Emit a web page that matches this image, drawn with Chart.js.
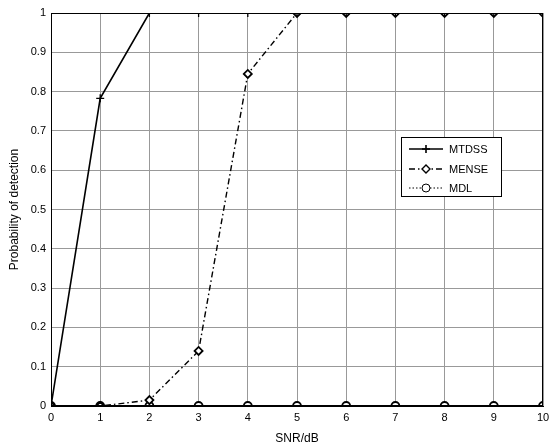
<!DOCTYPE html>
<html lang="en">
  <head>
    <meta charset="UTF-8" />
    <title>Probability of detection</title>
    <script src="https://cdn.jsdelivr.net/npm/chart.js@4.4.1/dist/chart.umd.min.js"></script>
    <style>
      html, body { margin: 0; padding: 0; background: #fff; }
      #wrap { width: 549px; height: 446px; }
    </style>
  </head>
  <body>
    <div id="wrap"><canvas id="myChart"></canvas></div>

    <script>
    // SNR/dB
    const snr = [0, 1, 2, 3, 4, 5, 6, 7, 8, 9, 10];
    // 各算法检测概率
    const mtdss = [0, 0.783, 1, 1, 1, 1, 1, 1, 1, 1, 1];
    const mense = [0, 0, 0.015, 0.14, 0.845, 1, 1, 1, 1, 1, 1];
    const mdl   = [0, 0, 0, 0, 0, 0, 0, 0, 0, 0, 0];
    // 纵轴刻度标签
    const yTickLabels = ['0', '0.1', '0.2', '0.3', '0.4', '0.5', '0.6', '0.7', '0.8', '0.9', '1'];

    const toPts = (arr) => snr.map((x, i) => ({ x: x, y: arr[i] }));

    const FONT = 'Liberation Sans, Arial, sans-serif';

    // 坐标框 (四边) + 图例
    const boxLegend = {
      id: 'boxLegend',
      afterDatasetsDraw(chart) {
        const ctx = chart.ctx;
        const a = chart.chartArea;
        ctx.save();
        ctx.strokeStyle = '#000';
        ctx.lineWidth = 1;
        ctx.strokeRect(a.left + 0.5, a.top + 0.5, a.right - a.left - 1, a.bottom - a.top - 1);

        // 图例
        const lx = 401, ly = 137, lw = 100, lh = 59;
        ctx.fillStyle = '#fff';
        ctx.fillRect(lx, ly, lw, lh);
        ctx.strokeRect(lx + 0.5, ly + 0.5, lw, lh);
        const rows = [149, 169, 188];
        chart.data.datasets.forEach((ds, i) => {
          const y = rows[i];
          ctx.strokeStyle = '#000';
          ctx.lineWidth = ds.borderWidth;
          ctx.setLineDash(ds.borderDash || []);
          ctx.beginPath();
          ctx.moveTo(409, y);
          ctx.lineTo(443, y);
          ctx.stroke();
          ctx.setLineDash([]);
          ctx.fillStyle = '#fff';
          ctx.strokeStyle = '#000';
          Chart.helpers.drawPoint(ctx, {
            pointStyle: ds.pointStyle,
            radius: ds.pointRadius,
            borderWidth: ds.pointBorderWidth
          }, 426, y);
          ctx.fillStyle = '#000';
          ctx.font = '11px ' + FONT;
          ctx.textBaseline = 'middle';
          ctx.textAlign = 'left';
          ctx.fillText(ds.label, 449, y + 1);
        });
        ctx.restore();
      }
    };

    const config = {
      type: 'line',
      data: {
        datasets: [
          {
            label: 'MTDSS',
            data: toPts(mtdss),
            borderColor: '#000',
            backgroundColor: '#fff',
            borderWidth: 1.6,
            pointStyle: 'cross',
            pointRadius: 4,
            pointBorderWidth: 1.3,
            pointBorderColor: '#000',
            fill: false,
            tension: 0
          },
          {
            label: 'MENSE',
            data: toPts(mense),
            borderColor: '#000',
            backgroundColor: '#fff',
            borderWidth: 1.4,
            borderDash: [6, 3, 1.5, 3],
            pointStyle: 'rectRot',
            pointRadius: 4,
            pointBorderWidth: 1.8,
            pointBorderColor: '#000',
            fill: false,
            tension: 0
          },
          {
            label: 'MDL',
            data: toPts(mdl),
            borderColor: '#000',
            backgroundColor: '#fff',
            borderWidth: 1,
            borderDash: [1.5, 2],
            pointStyle: 'circle',
            pointRadius: 4,
            pointBorderWidth: 1.8,
            pointBorderColor: '#000',
            fill: false,
            tension: 0
          }
        ]
      },
      options: {
        responsive: false,
        animation: false,
        layout: { padding: { left: 0, top: 13, right: 6, bottom: 0 } },
        scales: {
          x: {
            type: 'linear',
            min: 0,
            max: 10,
            afterFit(scale) { scale.height = 40; scale.paddingRight = 0; scale.paddingLeft = 0; },
            grid: { color: '#999', lineWidth: 1, drawTicks: false },
            border: { color: '#000' },
            ticks: {
              stepSize: 1,
              padding: 5,
              color: '#000',
              font: { family: FONT, size: 11 }
            },
            title: {
              display: true,
              text: 'SNR/dB',
              color: '#000',
              padding: { top: 2, bottom: 0 },
              font: { family: FONT, size: 12 }
            }
          },
          y: {
            min: 0,
            max: 1,
            afterFit(scale) { scale.width = 51; },
            grid: { color: '#999', lineWidth: 1, drawTicks: false },
            border: { color: '#000' },
            ticks: {
              stepSize: 0.1,
              padding: 5,
              color: '#000',
              font: { family: FONT, size: 11 },
              callback: (v) => yTickLabels[Math.round(v * 10)]
            },
            title: {
              display: true,
              text: 'Probability of detection',
              color: '#000',
              padding: { top: 7, bottom: 2 },
              font: { family: FONT, size: 12 }
            }
          }
        },
        plugins: {
          legend: { display: false },
          tooltip: { enabled: false }
        }
      },
      plugins: [boxLegend]
    };

    const canvas = document.getElementById('myChart');
    canvas.width = 549;
    canvas.height = 446;
    const myChart = new Chart(canvas, config);
    </script>
  </body>
</html>
